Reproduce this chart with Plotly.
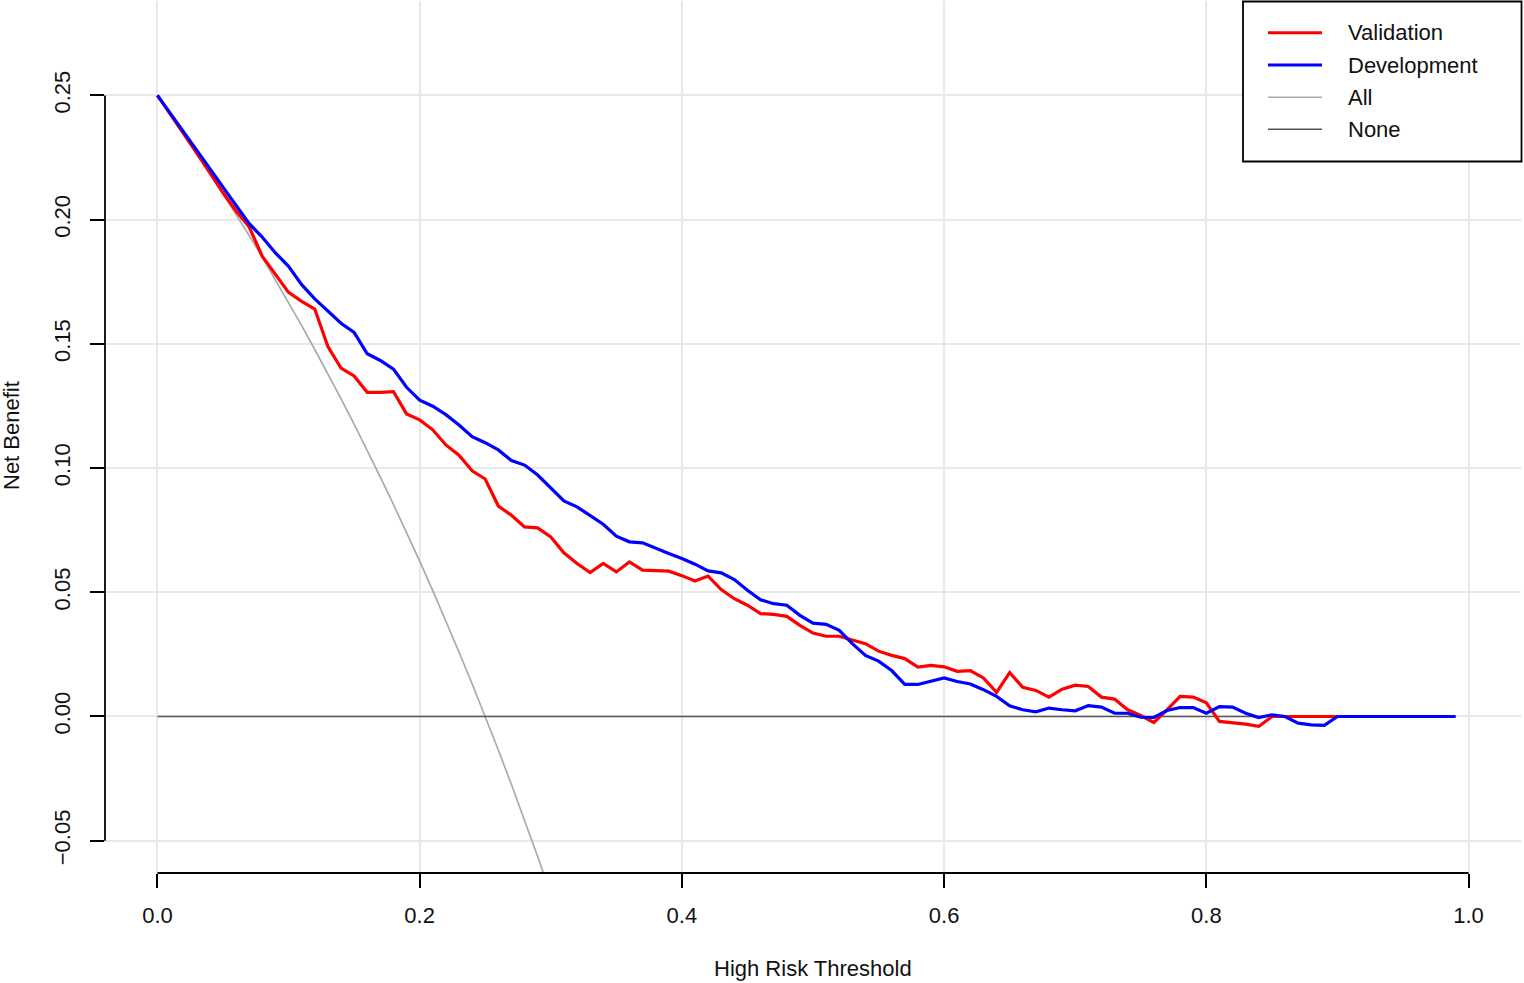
import plotly.graph_objects as go

# ---------------- data ----------------
thresholds = [round(i * 0.01, 2) for i in range(100)]

validation = [
    0.2500, 0.2424, 0.2347, 0.2268, 0.2188, 0.2108, 0.2035, 0.1970, 0.1852, 0.1782,
    0.1707, 0.1671, 0.1640, 0.1489, 0.1402, 0.1371, 0.1305, 0.1305, 0.1308, 0.1218,
    0.1194, 0.1154, 0.1093, 0.1052, 0.0989, 0.0956, 0.0847, 0.0810, 0.0763, 0.0759,
    0.0723, 0.0659, 0.0616, 0.0579, 0.0616, 0.0582, 0.0622, 0.0589, 0.0586, 0.0585,
    0.0567, 0.0545, 0.0565, 0.0511, 0.0474, 0.0448, 0.0414, 0.0411, 0.0403, 0.0367,
    0.0336, 0.0323, 0.0323, 0.0309, 0.0293, 0.0263, 0.0246, 0.0233, 0.0199, 0.0206,
    0.0200, 0.0182, 0.0185, 0.0155, 0.0097, 0.0177, 0.0117, 0.0105, 0.0078, 0.0110,
    0.0126, 0.0121, 0.0078, 0.0070, 0.0027, 0.0004, -0.0024, 0.0027, 0.0081, 0.0078,
    0.0055, -0.0020, -0.0024, -0.0031, -0.0040, 0.0000, 0.0000, 0.0000, 0.0000, 0.0000,
    0.0000, 0.0000, 0.0000, 0.0000, 0.0000, 0.0000, 0.0000, 0.0000, 0.0000, 0.0000,
]

development = [
    0.2500, 0.2425, 0.2350, 0.2278, 0.2205, 0.2131, 0.2058, 0.1984, 0.1929, 0.1866,
    0.1812, 0.1738, 0.1681, 0.1630, 0.1583, 0.1546, 0.1460, 0.1433, 0.1398, 0.1325,
    0.1273, 0.1249, 0.1215, 0.1173, 0.1126, 0.1102, 0.1073, 0.1030, 0.1012, 0.0972,
    0.0918, 0.0868, 0.0844, 0.0810, 0.0774, 0.0726, 0.0703, 0.0699, 0.0676, 0.0656,
    0.0636, 0.0613, 0.0586, 0.0578, 0.0551, 0.0508, 0.0470, 0.0454, 0.0448, 0.0407,
    0.0376, 0.0371, 0.0347, 0.0293, 0.0246, 0.0223, 0.0185, 0.0129, 0.0129, 0.0142,
    0.0155, 0.0141, 0.0131, 0.0108, 0.0081, 0.0043, 0.0027, 0.0019, 0.0034, 0.0027,
    0.0023, 0.0044, 0.0038, 0.0013, 0.0013, -0.0003, -0.0004, 0.0024, 0.0036, 0.0036,
    0.0013, 0.0040, 0.0038, 0.0013, -0.0004, 0.0007, 0.0000, -0.0027, -0.0034, -0.0036,
    0.0000, 0.0000, 0.0000, 0.0000, 0.0000, 0.0000, 0.0000, 0.0000, 0.0000, 0.0000,
]

all_thresholds = [0.00, 0.01, 0.02, 0.03, 0.04, 0.05, 0.06, 0.07, 0.08, 0.09,
                  0.10, 0.11, 0.12, 0.13, 0.14, 0.15, 0.16, 0.17, 0.18, 0.19,
                  0.20, 0.21, 0.22, 0.23, 0.24, 0.25, 0.26, 0.27, 0.28, 0.29, 0.30]
treat_all = [0.25000, 0.24242, 0.23469, 0.22680, 0.21875, 0.21053, 0.20213, 0.19355,
             0.18478, 0.17582, 0.16667, 0.15730, 0.14773, 0.13793, 0.12791, 0.11765,
             0.10714, 0.09639, 0.08537, 0.07407, 0.06250, 0.05063, 0.03846, 0.02597,
             0.01316, 0.00000, -0.01351, -0.02740, -0.04167, -0.05634, -0.07143]

treat_none = [0.0] * len(thresholds)

x_ticks = [0.0, 0.2, 0.4, 0.6, 0.8, 1.0]
y_ticks = [-0.05, 0.00, 0.05, 0.10, 0.15, 0.20, 0.25]

legend_names = ["Validation", "Development", "All", "None"]
legend_colors = ["#ff0000", "#0000ff", "#aaaaaa", "#555555"]
legend_widths = [3, 3, 1.6, 1.6]

# ---------------- figure ----------------
W, H = 1524, 983
ML, MR, MT, MB = 105, 3, 1, 110
PW, PH = W - ML - MR, H - MT - MB
FONT = "Liberation Sans, Arial, sans-serif"
TXT = "#111111"

fig = go.Figure()
fig.add_trace(go.Scatter(x=all_thresholds, y=treat_all, mode="lines", name="All",
                         line=dict(color="#aaaaaa", width=1.7), showlegend=False))
fig.add_trace(go.Scatter(x=thresholds, y=treat_none, mode="lines", name="None",
                         line=dict(color="#555555", width=1.7), showlegend=False))
fig.add_trace(go.Scatter(x=thresholds, y=validation, mode="lines", name="Validation",
                         line=dict(color="#ff0000", width=3.2), showlegend=False))
fig.add_trace(go.Scatter(x=thresholds, y=development, mode="lines", name="Development",
                         line=dict(color="#0000ff", width=3.2), showlegend=False))

def px2paper_x(px):
    return (px - ML) / PW

def px2paper_y(py):
    return (H - MB - py) / PH

shapes = []
# axis lines spanning tick range (R style)
shapes.append(dict(type="line", xref="x", yref="paper", x0=x_ticks[0], x1=x_ticks[-1],
                   y0=0, y1=0, line=dict(color="black", width=1.8)))
shapes.append(dict(type="line", xref="paper", yref="y", x0=0, x1=0,
                   y0=y_ticks[0], y1=y_ticks[-1], line=dict(color="black", width=1.8)))
# legend box
shapes.append(dict(type="rect", xref="paper", yref="paper",
                   x0=px2paper_x(1243), x1=px2paper_x(1521.5),
                   y0=px2paper_y(161.5), y1=px2paper_y(1.5),
                   line=dict(color="black", width=1.8), fillcolor="white", layer="above"))
annotations = []
row_y = [32.7, 65, 97.3, 129.3]
for name, col, lw, ry in zip(legend_names, legend_colors, legend_widths, row_y):
    shapes.append(dict(type="line", xref="paper", yref="paper",
                       x0=px2paper_x(1268), x1=px2paper_x(1322),
                       y0=px2paper_y(ry), y1=px2paper_y(ry),
                       line=dict(color=col, width=lw), layer="above"))
    annotations.append(dict(text=name, xref="paper", yref="paper",
                            x=px2paper_x(1346), y=px2paper_y(ry),
                            xanchor="left", yanchor="middle", showarrow=False,
                            font=dict(family=FONT, size=22, color=TXT)))

annotations.append(dict(text="High Risk Threshold", xref="paper", yref="paper",
                        x=px2paper_x(813), y=px2paper_y(968), xanchor="center",
                        yanchor="middle", showarrow=False,
                        font=dict(family=FONT, size=22, color=TXT)))
annotations.append(dict(text="Net Benefit", xref="paper", yref="paper",
                        x=px2paper_x(11), y=px2paper_y(436), xanchor="center",
                        yanchor="middle", textangle=-90, showarrow=False,
                        font=dict(family=FONT, size=22, color=TXT)))

fig.update_layout(
    width=W, height=H,
    margin=dict(l=ML, r=MR, t=MT, b=MB, autoexpand=False),
    paper_bgcolor="white", plot_bgcolor="white",
    showlegend=False,
    shapes=shapes, annotations=annotations,
    font=dict(family=FONT, size=22, color=TXT),
)
fig.update_xaxes(range=[-0.04, 1.04], tickvals=x_ticks, tickformat=".1f",
                 ticks="outside", ticklen=14, tickwidth=1.8, tickcolor="black",
                 ticklabelstandoff=9,
                 showgrid=True, gridcolor="#e8e8e8", gridwidth=1.5,
                 zeroline=False, showline=False,
                 tickfont=dict(family=FONT, size=22, color=TXT))
fig.update_yaxes(range=[-0.063, 0.288], tickvals=y_ticks, tickformat=".2f",
                 tickangle=-90, ticks="outside", ticklen=14, tickwidth=1.8,
                 tickcolor="black", ticklabelstandoff=11,
                 showgrid=True, gridcolor="#e8e8e8", gridwidth=1.5,
                 zeroline=False, showline=False,
                 tickfont=dict(family=FONT, size=22, color=TXT))

fig.write_html("out.html", config={"displayModeBar": False},
               post_script="document.body.style.margin='0';document.body.style.overflow='hidden';")
